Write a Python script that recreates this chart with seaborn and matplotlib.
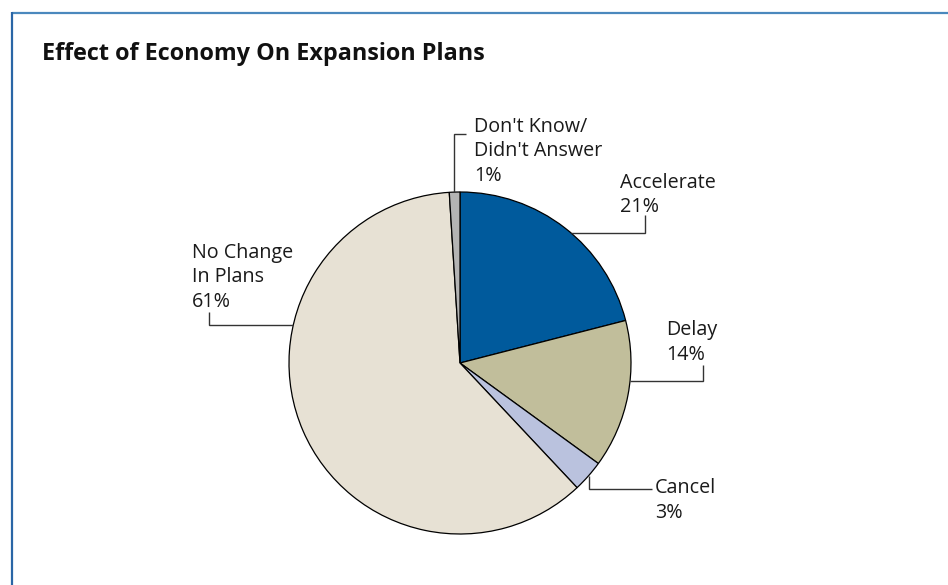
import matplotlib
matplotlib.use("Agg")
import matplotlib.pyplot as plt
import numpy as np
import seaborn as sns

# Survey results
categories = ["Accelerate", "Delay", "Cancel", "No Change In Plans", "Don't Know/Didn't Answer"]
shares = [21, 14, 3, 61, 1]
label_lines = [
    ["Accelerate", "21%"],
    ["Delay", "14%"],
    ["Cancel", "3%"],
    ["No Change", "In Plans", "61%"],
    ["Don't Know/", "Didn't Answer", "1%"],
]
title = "Effect of Economy On Expansion Plans"

slice_colors = ["#005a9c", "#c1be9b", "#bac2de", "#e7e1d4", "#b4b4b4"]

W, H = 948, 585
sns.set_theme(style="white")
plt.rcParams["font.family"] = ["Open Sans", "DejaVu Sans"]

fig = plt.figure(figsize=(W / 100, H / 100), dpi=100)
ax = fig.add_axes([0, 0, 1, 1])


def Y(y):
    return H - y


cx, cy, r = 460, 363, 171
wedges, _ = ax.pie(
    shares,
    colors=slice_colors,
    startangle=90,
    counterclock=False,
    center=(cx, Y(cy)),
    radius=r,
    wedgeprops=dict(edgecolor="black", linewidth=0.9),
)
ax.set_xlim(0, W)
ax.set_ylim(0, H)
ax.set_aspect("equal")
ax.axis("off")

# Leader lines: where on the wedge they start, which way they leave, where they end
anchor_frac = [0.467, 0.593, 0.52, 0.335, 0.56]
leader_kind = ["h", "h", "v", "h", "v"]
leader_end = [(645, 215), (703, 365), (652, 489), (209, 312), (466, 134)]
# Label text blocks: left x and first baseline, in pixels from the top-left
label_pos = [(620, 188), (666, 335), (655, 493), (192, 258), (474, 132)]
line_step = 24.5

for w, frac, kind, (ex, ey), lines, (tx, ty) in zip(
    wedges, anchor_frac, leader_kind, leader_end, label_lines, label_pos
):
    ang = np.deg2rad(w.theta1 + frac * (w.theta2 - w.theta1))
    ax_, ay_ = w.center[0] + w.r * np.cos(ang), w.center[1] + w.r * np.sin(ang)
    if kind == "h":
        xs = [ax_, ex, ex]
        ys = [ay_, ay_, Y(ey)]
    else:
        xs = [ax_, ax_, ex]
        ys = [ay_, Y(ey), Y(ey)]
    ax.plot(xs, ys, color="#333333", lw=1.0, solid_capstyle="butt", solid_joinstyle="miter")
    for i, line in enumerate(lines):
        ax.text(tx, Y(ty + i * line_step), line, ha="left", va="baseline",
                fontsize=14.2, color="#1a1a1a")

ax.text(42, Y(60), title, ha="left", va="baseline", fontsize=16.8,
        fontweight="bold", color="#111111")

# Frame lines along the top and left edges
ax.plot([12, W], [Y(13), Y(13)], color="#4a88bd", lw=1.6, solid_capstyle="butt")
ax.plot([12, 12], [Y(12), 0], color="#2a66a6", lw=1.6, solid_capstyle="butt")

fig.savefig("out.png", dpi=100)
